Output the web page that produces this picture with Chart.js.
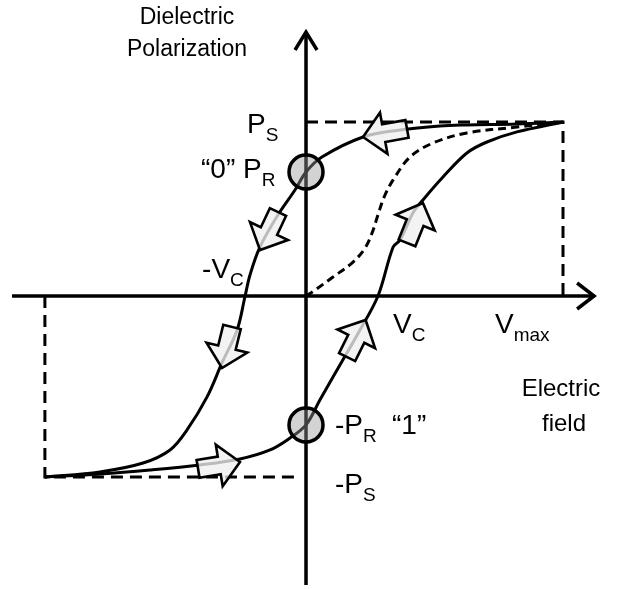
<!DOCTYPE html>
<html>
<head>
<meta charset="utf-8">
<script src="https://cdn.jsdelivr.net/npm/chart.js@4.4.1/dist/chart.umd.min.js"></script>
<style>
  html, body { margin: 0; padding: 0; background: #fff; }
  #wrap { width: 618px; height: 589px; }
</style>
</head>
<body>
<div id="wrap"><canvas id="c" width="618" height="589"></canvas></div>
<script>
// ---- values (x: V / Vmax, y: P / Ps) ----
const PS = 1.0, NEG_PS = -1.04;
const VMAX = 1.0, NEG_VMAX = -1.016;
const PR = 0.713, NEG_PR = -0.741;
const VC = 0.28, NEG_VC = -0.237;

// descending branch (from +Vmax to -Vmax)
const upperX = [1.0, 0.821, 0.626, 0.521, 0.366, 0.222, 0.062, 0, -0.043, -0.109, -0.179, -0.218, NEG_VC, -0.268, -0.327, -0.385, -0.463, -0.529, -0.634, -0.802, NEG_VMAX];
const upperY = [PS, 0.989, 0.983, 0.977, 0.954, 0.914, 0.799, PR, 0.609, 0.466, 0.282, 0.121, 0, -0.195, -0.385, -0.580, -0.770, -0.885, -0.960, -1.011, NEG_PS];

// ascending branch (from -Vmax to +Vmax)
const lowerX = [NEG_VMAX, -0.802, -0.607, -0.412, -0.257, -0.140, -0.062, 0, 0.054, 0.105, 0.210, VC, 0.339, 0.366, 0.416, 0.455, 0.533, 0.626, 0.704, 0.821, VMAX];
const lowerY = [NEG_PS, -1.023, -1.0, -0.971, -0.937, -0.885, -0.816, NEG_PR, -0.598, -0.466, -0.195, 0, 0.282, 0.322, 0.477, 0.552, 0.684, 0.822, 0.885, 0.943, PS];

// initial (virgin) polarization curve
const virginX = [0, 0.035, 0.105, 0.183, 0.230, 0.257, 0.280, 0.304, 0.339, 0.405, 0.494, 0.626, 0.821, VMAX];
const virginY = [0, 0.034, 0.109, 0.195, 0.276, 0.362, 0.466, 0.569, 0.667, 0.799, 0.879, 0.937, 0.971, PS];

// direction arrows on the loop: tail -> tip
const arrowTailX = [0.393, -0.109, -0.288, -0.420, 0.160, 0.393];
const arrowTailY = [0.960, 0.483, -0.178, -0.994, -0.351, 0.305];
const arrowTipX  = [0.222, -0.179, -0.327, -0.257, 0.232, 0.455];
const arrowTipY  = [0.914, 0.264, -0.414, -0.954, -0.138, 0.534];

// axis extents
const axisXMin = -1.144, axisXMax = 1.121;
const axisYMin = -1.661, axisYMax = 1.517;
// view window
const viewXMin = -1.1907, viewXMax = 1.2140;
const viewYMin = -1.6839, viewYMax = 1.7011;

const pts = (xs, ys) => xs.map((x, i) => ({ x: x, y: ys[i] }));

const FONT = "'Liberation Sans', Arial, sans-serif";

function drawPieces(ctx, pieces, x, y, size, subSize) {
  let cx = x;
  ctx.textAlign = 'left';
  ctx.textBaseline = 'alphabetic';
  pieces.forEach(p => {
    if (p.sub) {
      ctx.font = subSize + 'px ' + FONT;
      ctx.fillText(p.t, cx, y + 8);
    } else {
      ctx.font = size + 'px ' + FONT;
      ctx.fillText(p.t, cx, y);
    }
    cx += ctx.measureText(p.t).width;
  });
}

const decor = {
  id: 'decor',
  beforeDatasetsDraw(chart) {
    const ctx = chart.ctx;
    const xs = chart.scales.x, ys = chart.scales.y;
    const ox = xs.getPixelForValue(0), oy = ys.getPixelForValue(0);
    const x0 = xs.getPixelForValue(axisXMin), x1 = xs.getPixelForValue(axisXMax);
    const y0 = ys.getPixelForValue(axisYMin), y1 = ys.getPixelForValue(axisYMax);
    ctx.save();
    ctx.strokeStyle = '#000';
    ctx.lineWidth = 3.5;
    ctx.lineCap = 'butt';
    ctx.beginPath();
    ctx.moveTo(x0, oy); ctx.lineTo(x1, oy);
    ctx.moveTo(ox, y0); ctx.lineTo(ox, y1);
    ctx.stroke();
    ctx.lineJoin = 'miter';
    ctx.beginPath();
    ctx.moveTo(x1 - 17, oy - 13); ctx.lineTo(x1, oy); ctx.lineTo(x1 - 17, oy + 13);
    ctx.moveTo(ox - 11, y1 + 18); ctx.lineTo(ox, y1); ctx.lineTo(ox + 11, y1 + 18);
    ctx.stroke();
    ctx.restore();
  },
  afterDatasetsDraw(chart) {
    const ctx = chart.ctx;
    const xs = chart.scales.x, ys = chart.scales.y;
    ctx.save();
    // arrows
    for (let i = 0; i < arrowTipX.length; i++) {
      const tx = xs.getPixelForValue(arrowTipX[i]), ty = ys.getPixelForValue(arrowTipY[i]);
      const bx = xs.getPixelForValue(arrowTailX[i]), by = ys.getPixelForValue(arrowTailY[i]);
      const len = Math.hypot(tx - bx, ty - by);
      const ang = Math.atan2(ty - by, tx - bx);
      const headL = 21, headW = 21, bodyW = 9;
      ctx.save();
      ctx.translate(bx, by);
      ctx.rotate(ang);
      ctx.beginPath();
      ctx.moveTo(0, -bodyW);
      ctx.lineTo(len - headL, -bodyW);
      ctx.lineTo(len - headL, -headW);
      ctx.lineTo(len, 0);
      ctx.lineTo(len - headL, headW);
      ctx.lineTo(len - headL, bodyW);
      ctx.lineTo(0, bodyW);
      ctx.closePath();
      ctx.fillStyle = 'rgba(240,240,240,0.78)';
      ctx.fill();
      ctx.lineWidth = 2.6;
      ctx.lineJoin = 'miter';
      ctx.strokeStyle = '#000';
      ctx.stroke();
      ctx.restore();
    }
    // labels
    ctx.fillStyle = '#000';
    const ox = xs.getPixelForValue(0), oy = ys.getPixelForValue(0);
    const S = 28, SS = 19;
    ctx.font = '23px ' + FONT;
    ctx.textAlign = 'center';
    ctx.fillText('Dielectric', ox - 119, 24);
    ctx.fillText('Polarization', ox - 119, 56);
    ctx.font = '24px ' + FONT;
    ctx.fillText('Electric', 561, oy + 100);
    ctx.fillText('field', 564, oy + 135);

    drawPieces(ctx, [{t: 'P'}, {t: 'S', sub: true}], ox - 59, ys.getPixelForValue(PS) + 11, S, SS);
    drawPieces(ctx, [{t: '\u201C0\u201D P'}, {t: 'R', sub: true}], ox - 105, ys.getPixelForValue(PR) + 6, S, SS);
    drawPieces(ctx, [{t: '-V'}, {t: 'C', sub: true}], xs.getPixelForValue(NEG_VC) - 43, oy - 18, S, SS);
    drawPieces(ctx, [{t: 'V'}, {t: 'C', sub: true}], xs.getPixelForValue(VC) + 15, oy + 37, S, SS);
    drawPieces(ctx, [{t: 'V'}, {t: 'max', sub: true}], xs.getPixelForValue(VMAX) - 68, oy + 37, S, SS);
    drawPieces(ctx, [{t: '-P'}, {t: 'R', sub: true}], ox + 29, ys.getPixelForValue(NEG_PR) + 9, S, SS);
    drawPieces(ctx, [{t: '\u201C1\u201D'}], ox + 86, ys.getPixelForValue(NEG_PR) + 9, S, SS);
    drawPieces(ctx, [{t: '-P'}, {t: 'S', sub: true}], ox + 29, ys.getPixelForValue(NEG_PS) + 16, S, SS);
    ctx.restore();
  }
};

new Chart(document.getElementById('c'), {
  type: 'scatter',
  data: {
    datasets: [
      {
        label: 'states',
        data: [{ x: 0, y: PR }, { x: 0, y: NEG_PR }],
        pointRadius: 17,
        pointBackgroundColor: 'rgba(150,150,150,0.42)',
        pointBorderColor: '#000',
        pointBorderWidth: 3.5,
        showLine: false
      },
      {
        label: 'descending',
        data: pts(upperX, upperY),
        showLine: true, borderColor: '#000', borderWidth: 3, pointRadius: 0, tension: 0.35, fill: false
      },
      {
        label: 'ascending',
        data: pts(lowerX, lowerY),
        showLine: true, borderColor: '#000', borderWidth: 3, pointRadius: 0, tension: 0.35, fill: false
      },
      {
        label: 'virgin',
        data: pts(virginX, virginY),
        showLine: true, borderColor: '#000', borderWidth: 3, borderDash: [8, 5], pointRadius: 0, tension: 0.35, fill: false
      },
      {
        label: 'Ps box',
        data: [{ x: 0, y: PS }, { x: VMAX, y: PS }, { x: VMAX, y: 0 }],
        showLine: true, borderColor: '#000', borderWidth: 3, borderDash: [12, 7], pointRadius: 0, tension: 0, fill: false
      },
      {
        label: '-Ps box',
        data: [{ x: NEG_VMAX, y: 0 }, { x: NEG_VMAX, y: NEG_PS }, { x: -0.043, y: NEG_PS }],
        showLine: true, borderColor: '#000', borderWidth: 3, borderDash: [12, 7], pointRadius: 0, tension: 0, fill: false
      }
    ]
  },
  options: {
    responsive: false,
    animation: false,
    devicePixelRatio: 1,
    layout: { padding: 0, autoPadding: false },
    plugins: { legend: { display: false }, tooltip: { enabled: false } },
    scales: {
      x: { type: 'linear', min: viewXMin, max: viewXMax, display: false },
      y: { type: 'linear', min: viewYMin, max: viewYMax, display: false }
    }
  },
  plugins: [decor]
});
</script>
</body>
</html>
